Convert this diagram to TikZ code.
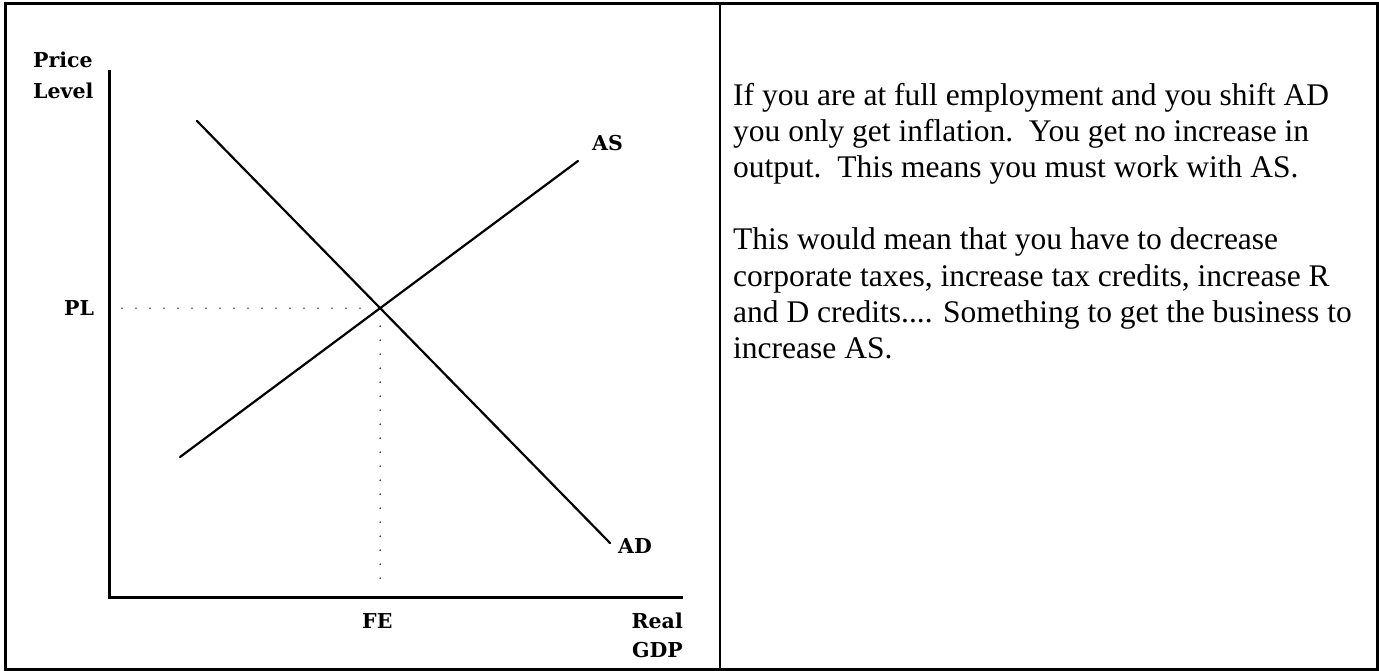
\documentclass[tikz,border=0pt]{standalone}
\usepackage{fontspec}
\newfontfamily\bodyfont{Liberation Serif}
\newfontfamily\labelfont{DejaVu Serif}
\usetikzlibrary{calc}
\begin{document}
\begin{tikzpicture}[x=1pt,y=-1pt,
  frame/.style={line width=3pt},
  axis/.style={line width=3pt, line join=miter},
  curve/.style={line width=2.2pt, line cap=round},
  guide/.style={line width=1.6pt, dash pattern=on 0pt off 14pt, line cap=round},
  lbl/.style={font=\labelfont\bfseries\fontsize{20.5}{24}\selectfont, inner sep=0pt},
  body/.style={font=\bodyfont\fontsize{31.5}{36}\selectfont, inner sep=0pt, anchor=base west}]
\useasboundingbox (0,0) rectangle (1379,671);
% table frame
\coordinate (tl) at (5,4);
\coordinate (br) at (1377,669);
\coordinate (dtop) at (720,4);
\coordinate (dbot) at (720,669);
\draw[frame] (tl) rectangle (br);
\draw[line width=2.5pt] (dtop) -- (dbot);
% axes
\coordinate (ytop) at (109,70);
\coordinate (O) at (109,597);
\coordinate (xend) at (683,597);
\draw[axis] (ytop) -- (O) -- (xend);
% curves
\coordinate (ad1) at (197,121);
\coordinate (ad2) at (610,543);
\coordinate (as1) at (180,457);
\coordinate (as2) at (578,161);
\draw[curve] (ad1) -- (ad2);
\draw[curve] (as1) -- (as2);
\coordinate (E) at (intersection of ad1--ad2 and as1--as2);
% guides
\coordinate (hstart) at (122,0);
\coordinate (vend) at (0,583);
\draw[guide] (E -| hstart) -- ([xshift=-17pt]E);
\draw[guide] ([yshift=-18pt]E) -- (E |- vend);
% labels
\node[lbl, anchor=base west] (price) at (33,68) {Price};
\node[lbl, anchor=base west] (level) at (33,99) {Level};
\node[lbl, anchor=base west] (pl) at (64,315) {PL};
\node[lbl, anchor=base west] (fe) at (362,628) {FE};
\node[lbl, anchor=base east] (real) at (683,628) {Real};
\node[lbl, anchor=base east] (gdp) at (683,657) {GDP};
\node[lbl, anchor=base west] (aslbl) at (592,151) {AS};
\node[lbl, anchor=base west] (adlbl) at (618,553) {AD};
% text
\node[body] (t1) at (733,106) {If you are at full employment and you shift AD};
\node[body] (t2) at (733,142) {you only get inflation.\ \ You get no increase in};
\node[body] (t3) at (733,178) {output.\ \ This means you must work with AS.};
\node[body] (t4) at (733,250) {This would mean that you have to decrease};
\node[body] (t5) at (733,286) {corporate taxes, increase tax credits, increase R};
\node[body] (t6) at (733,322) {and D credits.... Something to get the business to};
\node[body] (t7) at (733,358) {increase AS.};
\end{tikzpicture}
\end{document}
